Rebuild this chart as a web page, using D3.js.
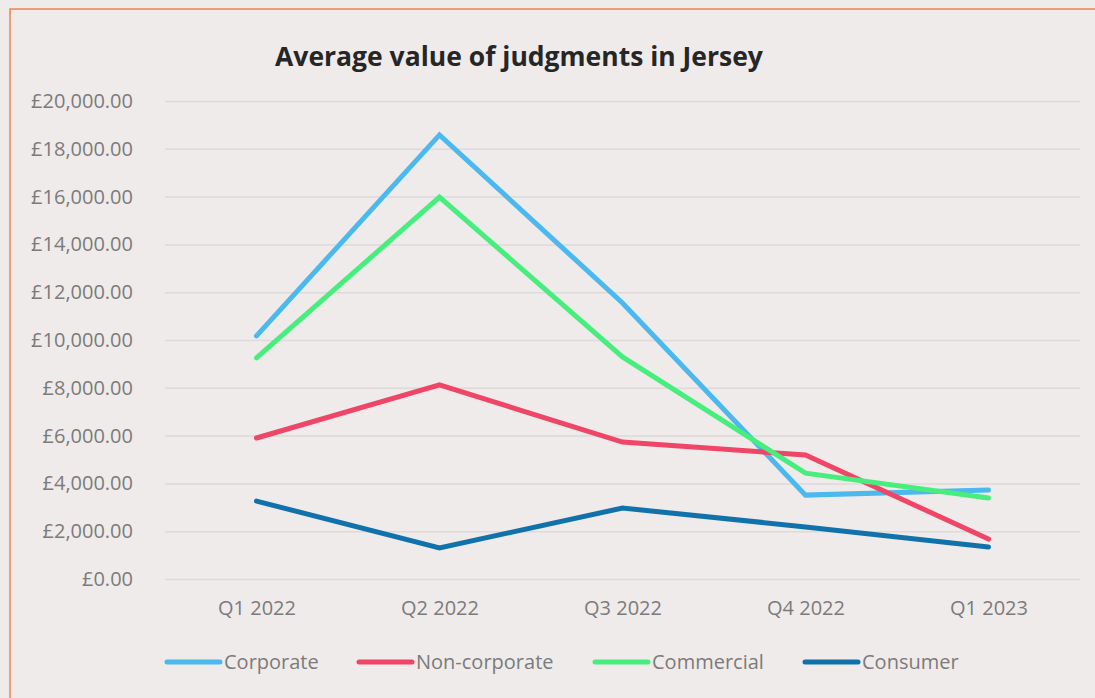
<!DOCTYPE html>
<html>
<head>
<meta charset="utf-8">
<script src="https://cdn.jsdelivr.net/npm/d3@7"></script>
<style>
  body { margin: 0; background: #efebea; }
  svg { display: block; }
</style>
</head>
<body>
<div id="chart"></div>
<script>
// data
var quarters = ["Q1 2022", "Q2 2022", "Q3 2022", "Q4 2022", "Q1 2023"];
var seriesNames = ["Corporate", "Non-corporate", "Commercial", "Consumer"];
var corporate = [10170, 18580, 11550, 3510, 3720];
var nonCorporate = [5900, 8120, 5730, 5190, 1670];
var commercial = [9250, 15980, 9290, 4430, 3390];
var consumer = [3260, 1300, 2970, 2180, 1340];
var yTicks = [0, 2000, 4000, 6000, 8000, 10000, 12000, 14000, 16000, 18000, 20000];

var colors = ["#4bb8ee", "#ef4667", "#48ee7d", "#1172ab"];
var values = [corporate, nonCorporate, commercial, consumer];

var width = 1095, height = 698,
    fontFamily = "'Open Sans', sans-serif";

var margin = { top: 101, left: 165, right: 15, bottom: 119 };

var svg = d3.select("#chart").append("svg")
    .attr("width", width)
    .attr("height", height);

svg.append("rect")
    .attr("width", width).attr("height", height)
    .attr("fill", "#efebea");

/* orange frame */
svg.append("rect")
    .attr("x", 10).attr("y", 9)
    .attr("width", width + 20).attr("height", height + 20)
    .attr("fill", "none")
    .attr("stroke", "#f0824c")
    .attr("stroke-width", 1.5);

var x = d3.scalePoint()
    .domain(quarters)
    .range([margin.left, width - margin.right])
    .padding(0.5);

var y = d3.scaleLinear()
    .domain([0, 20000])
    .range([height - margin.bottom, margin.top]);

/* gridlines */
svg.append("g")
    .attr("transform", "translate(" + margin.left + ",0)")
    .call(d3.axisLeft(y).tickValues(yTicks).tickSize(-(width - margin.left - margin.right)).tickFormat(""))
    .call(function(g) { g.select(".domain").remove(); })
    .selectAll("line")
    .attr("stroke", "#dedad8")
    .attr("stroke-width", 1.5);

/* y labels */
var fmt = d3.format(",.2f");
svg.append("g")
    .attr("transform", "translate(" + (margin.left - 29) + ",0)")
    .call(d3.axisLeft(y).tickValues(yTicks).tickSize(0).tickFormat(function(d) { return "£" + fmt(d); }))
    .call(function(g) { g.select(".domain").remove(); })
    .selectAll("text")
    .attr("font-family", fontFamily)
    .attr("font-size", 20)
    .attr("fill", "#7b7b7b");

/* x labels */
svg.append("g")
    .attr("transform", "translate(0," + (height - margin.bottom + 19) + ")")
    .call(d3.axisBottom(x).tickSize(0))
    .call(function(g) { g.select(".domain").remove(); })
    .selectAll("text")
    .attr("font-family", fontFamily)
    .attr("font-size", 20)
    .attr("fill", "#7b7b7b");

/* lines */
var line = d3.line()
    .x(function(d, i) { return x(quarters[i]); })
    .y(function(d) { return y(d); });

svg.selectAll(".series")
    .data(values)
    .enter().append("path")
    .attr("class", "series")
    .attr("d", line)
    .attr("fill", "none")
    .attr("stroke", function(d, i) { return colors[i]; })
    .attr("stroke-width", 5)
    .attr("stroke-linejoin", "miter")
    .attr("stroke-linecap", "round");

/* title */
svg.append("text")
    .attr("x", 519).attr("y", 66)
    .attr("text-anchor", "middle")
    .attr("font-family", fontFamily)
    .attr("font-weight", "bold")
    .attr("font-size", 26.5)
    .attr("fill", "#262626")
    .text("Average value of judgments in Jersey");

/* legend */
var legendX = [165, 357, 593, 803];
var legend = svg.selectAll(".legend")
    .data(seriesNames)
    .enter().append("g")
    .attr("class", "legend")
    .attr("transform", function(d, i) { return "translate(" + legendX[i] + ",662)"; });

legend.append("line")
    .attr("x1", 2).attr("x2", 55)
    .attr("stroke", function(d, i) { return colors[i]; })
    .attr("stroke-width", 5)
    .attr("stroke-linecap", "round");

legend.append("text")
    .attr("x", 59).attr("dy", "0.35em")
    .attr("font-family", fontFamily)
    .attr("font-size", 20)
    .attr("fill", "#7b7b7b")
    .text(function(d) { return d; });
</script>
</body>
</html>
